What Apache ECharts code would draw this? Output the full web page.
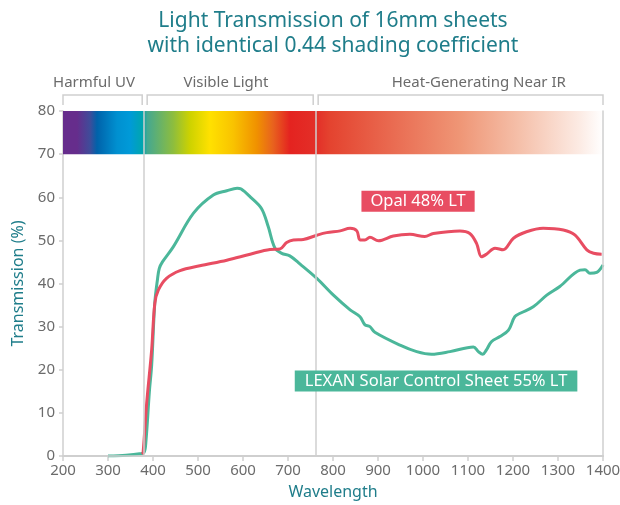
<!DOCTYPE html>
<html><head><meta charset="utf-8">
<script src="https://cdn.jsdelivr.net/npm/echarts@6/dist/echarts.min.js"></script>
<style>html,body{margin:0;padding:0;background:#fff}#c{width:620px;height:505px}</style>
</head><body><div id="c"></div>
<script>
// ---- data ----
const titleLines = ['Light Transmission of 16mm sheets', 'with identical 0.44 shading coefficient'];
const xMin = 200, xMax = 1400, xStep = 100;
const yMin = 0, yMax = 80, yStep = 10;

const lexanX = [300, 340, 370, 380, 384, 392, 397, 404, 410, 414, 421, 445, 490, 534, 564, 587, 596, 616, 641, 656, 671, 686, 704, 727, 764, 801, 838, 860, 871, 882, 893, 949, 986, 1019, 1060, 1112, 1123, 1133, 1141, 1152, 1171, 1190, 1204, 1216, 1245, 1275, 1304, 1349, 1360, 1371, 1386, 1400];
const lexanY = [0, 0.2, 0.5, 0.8, 3, 15, 21, 35.5, 41, 43.5, 45, 48.5, 56.3, 60.5, 61.5, 62.1, 61.9, 60.1, 57.4, 53.2, 48.2, 47, 46.4, 44.5, 41.2, 37.3, 33.9, 32.3, 30.4, 30, 28.7, 25.7, 24.2, 23.6, 24.2, 25.3, 24.2, 23.6, 24.6, 26.5, 27.7, 29.2, 32.3, 33.1, 34.6, 37.3, 39.3, 43.1, 43.2, 42.4, 42.6, 44.3];

const opalX = [376, 378, 386, 397, 404, 412, 430, 460, 504, 564, 616, 660, 682, 697, 712, 734, 764, 786, 816, 838, 853, 860, 871, 882, 901, 934, 971, 1004, 1023, 1082, 1104, 1119, 1130, 1141, 1160, 1178, 1201, 1230, 1267, 1312, 1338, 1364, 1379, 1397];
const opalY = [0.4, 0.8, 12.3, 24.6, 35.4, 38.5, 41.2, 43, 44.1, 45.4, 46.8, 47.9, 48, 49.5, 50.1, 50.2, 51.2, 51.8, 52.2, 52.8, 52.2, 50.1, 50.1, 50.7, 49.9, 51, 51.4, 50.9, 51.6, 52.2, 51.6, 49.3, 46.2, 46.8, 48.2, 47.8, 50.5, 52, 52.8, 52.4, 51.2, 47.8, 47, 46.8];

const seriesNames = ['LEXAN Solar Control Sheet 55% LT', 'Opal 48% LT'];
const seriesLabelAt = [[1029, 17.4], [989, 59.1]];

const bandNames = ['Harmful UV', 'Visible Light', 'Heat-Generating Near IR'];
const bandStart = [200, 387, 767];
const bandEnd = [376, 756, 1400];
const bandLabelAt = [269, 562, 1124];
const dividers = [380, 762];
const spectrumLow = 70, spectrumHigh = 80;

// ---- styles ----
const FONT = '"Noto Sans", sans-serif';
const GREEN = '#4bb79a', RED = '#e84d62', TEAL = '#1f7d8a', GRAY = '#6b6b6b', LINE = '#cfcfcf';

const spectrum = new echarts.graphic.LinearGradient(0, 0, 1, 0, [
  {offset: 0, color: '#662d8c'}, {offset: 0.026, color: '#662d8c'},
  {offset: 0.05, color: '#3f4c9a'}, {offset: 0.063, color: '#0062aa'},
  {offset: 0.10, color: '#0090d0'}, {offset: 0.124, color: '#009ad8'},
  {offset: 0.148, color: '#00a6ad'}, {offset: 0.156, color: '#45a890'},
  {offset: 0.204, color: '#8dbd3e'}, {offset: 0.235, color: '#cdd200'},
  {offset: 0.272, color: '#ffe100'}, {offset: 0.315, color: '#f9c300'},
  {offset: 0.359, color: '#f09100'}, {offset: 0.389, color: '#e8621e'},
  {offset: 0.42, color: '#e42320'}, {offset: 0.469, color: '#e32f28'},
  {offset: 0.494, color: '#e4432f'}, {offset: 0.735, color: '#ef9676'},
  {offset: 0.846, color: '#f5c0aa'}, {offset: 0.957, color: '#fcebe4'},
  {offset: 1, color: '#ffffff'}
]);

const chart = echarts.init(document.getElementById('c'), null, {renderer: 'canvas'});

function pairs(xs, ys) { return xs.map((x, i) => [x, ys[i]]); }

chart.setOption({
  animation: false,
  textStyle: {fontFamily: FONT},
  title: {
    text: titleLines.join('\n'),
    left: 333, top: 9, padding: 0, textAlign: 'center',
    textStyle: {color: TEAL, fontSize: 21, fontWeight: 'normal', lineHeight: 25, fontFamily: FONT}
  },
  grid: {left: 63, right: 17, top: 111, bottom: 49, outerBoundsMode: 'none', containLabel: false},
  xAxis: [{
    type: 'value', min: xMin, max: xMax, interval: xStep,
    name: 'Wavelength', nameLocation: 'middle', nameGap: 28,
    nameTextStyle: {color: TEAL, fontSize: 16, fontFamily: FONT},
    axisLine: {show: true, lineStyle: {color: LINE, width: 2}},
    axisTick: {show: true, length: 5, lineStyle: {color: LINE, width: 1.5}},
    axisLabel: {color: GRAY, fontSize: 15, margin: 7, fontFamily: FONT, interval: 0,
      formatter: v => String(v)},
    splitLine: {show: false}
  }, {
    type: 'value', min: xMin, max: xMax, position: 'top', z: 5,
    axisLine: {show: true, lineStyle: {color: LINE, width: 1.5}},
    axisTick: {show: false}, axisLabel: {show: false}, splitLine: {show: false}
  }],
  yAxis: [{
    type: 'value', min: yMin, max: yMax, interval: yStep,
    name: 'Transmission (%)', nameLocation: 'middle', nameGap: 37,
    nameTextStyle: {color: TEAL, fontSize: 16, fontFamily: FONT},
    axisLine: {show: true, lineStyle: {color: LINE, width: 1.5}},
    axisTick: {show: true, length: 4, lineStyle: {color: LINE, width: 1.5}},
    axisLabel: {color: GRAY, fontSize: 15, margin: 8, fontFamily: FONT},
    splitLine: {show: false}
  }, {
    type: 'value', min: yMin, max: yMax, position: 'right', z: 5,
    axisLine: {show: true, lineStyle: {color: LINE, width: 1.5}},
    axisTick: {show: false}, axisLabel: {show: false}, splitLine: {show: false}
  }],
  series: [{
    type: 'line', name: seriesNames[0], data: pairs(lexanX, lexanY),
    smooth: 0.35, symbol: 'none', z: 3,
    lineStyle: {color: GREEN, width: 3},
    markArea: {
      silent: true,
      itemStyle: {color: spectrum, opacity: 1},
      data: [[{xAxis: xMin, yAxis: spectrumLow}, {xAxis: xMax, yAxis: spectrumHigh}]]
    },
    markLine: {
      silent: true, symbol: 'none', label: {show: false},
      lineStyle: {color: LINE, width: 1.5, type: 'solid'},
      data: dividers.map(d => ({xAxis: d}))
    },
    markPoint: {
      silent: true, symbol: 'rect', symbolSize: 0,
      label: {show: true, position: 'inside', formatter: seriesNames[0], color: '#fff', fontSize: 16.5,
        fontFamily: FONT, backgroundColor: GREEN, padding: [2, 10, 2, 10]},
      data: [{coord: seriesLabelAt[0]}]
    }
  }, {
    type: 'line', name: seriesNames[1], data: pairs(opalX, opalY),
    smooth: 0.35, symbol: 'none', z: 4,
    lineStyle: {color: RED, width: 3},
    markPoint: {
      silent: true, symbol: 'rect', symbolSize: 0,
      label: {show: true, position: 'inside', formatter: seriesNames[1], color: '#fff', fontSize: 16.5,
        fontFamily: FONT, backgroundColor: RED, padding: [2, 9, 2, 9]},
      data: [{coord: seriesLabelAt[1]}]
    }
  }, {
    type: 'custom', clip: false, silent: true, z: 6,
    data: bandStart.map((s, i) => [s, spectrumHigh, bandEnd[i]]),
    encode: {x: [0, 2], y: 1},
    renderItem: function (params, api) {
      const i = params.dataIndex;
      const a = api.coord([bandStart[i], spectrumHigh]);
      const b = api.coord([bandEnd[i], spectrumHigh]);
      const t = api.coord([bandLabelAt[i], spectrumHigh]);
      return {type: 'group', children: [
        {type: 'polyline', shape: {points: [[a[0], a[1] - 6], [a[0], a[1] - 16], [b[0], b[1] - 16], [b[0], b[1] - 6]]},
          style: {stroke: LINE, lineWidth: 1.5, fill: null}},
        {type: 'text', x: t[0], y: t[1] - 28,
          style: {text: bandNames[i], fill: GRAY, font: '15px ' + FONT, align: 'center', verticalAlign: 'middle'}}
      ]};
    }
  }]
});
</script>
</body></html>
